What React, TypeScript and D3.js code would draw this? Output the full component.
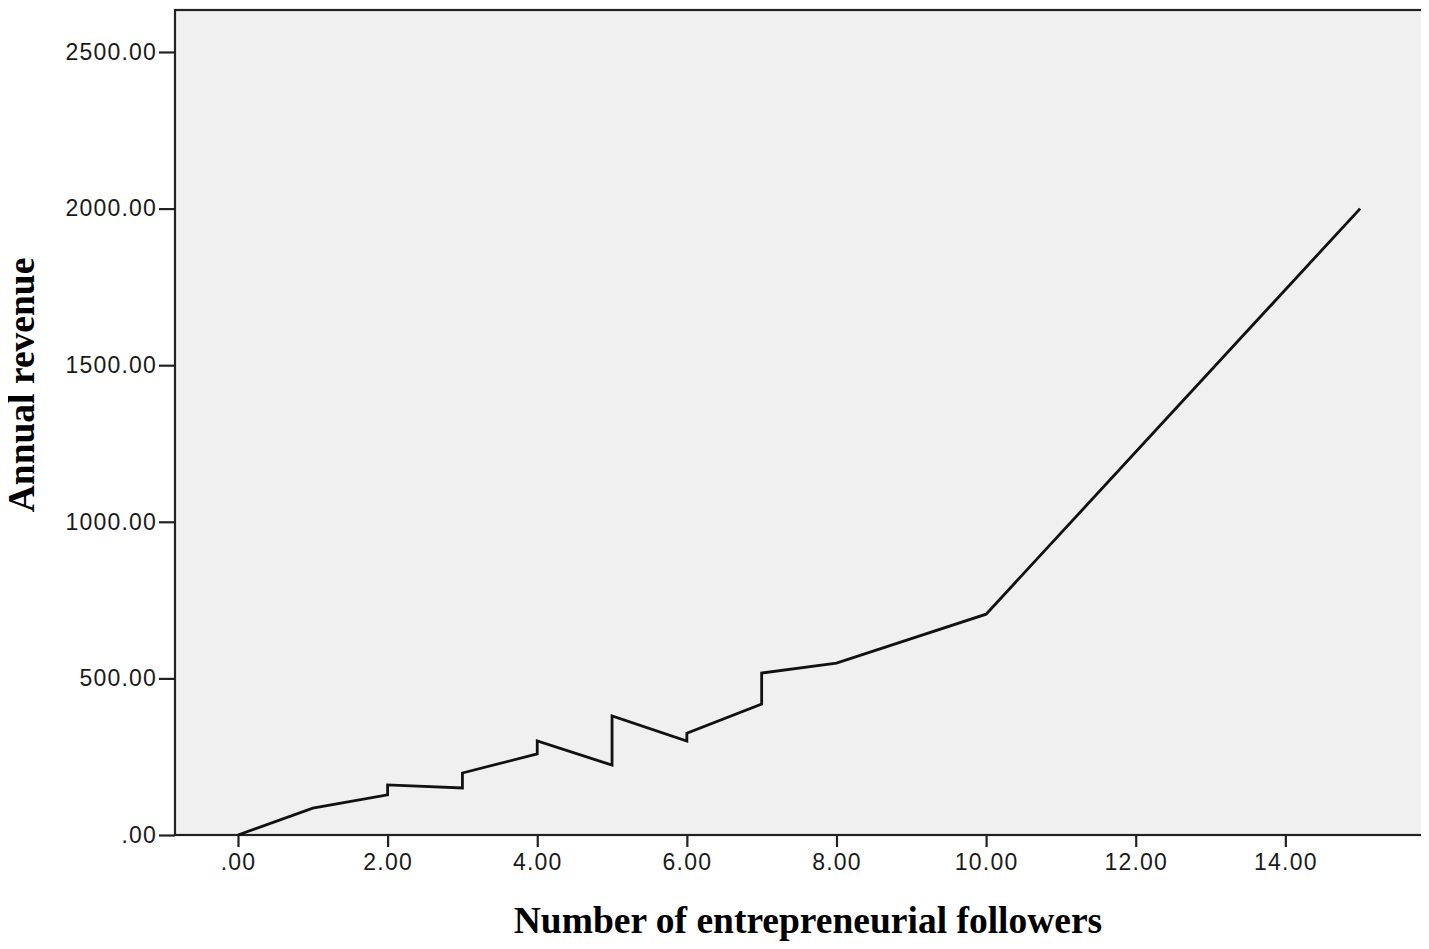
import * as d3 from "d3";
import React, { useEffect, useRef } from "react";

// SPSS line chart: several cases share the same x, so the line jumps vertically
const followers = [0, 1, 2, 2, 3, 3, 4, 4, 5, 5, 6, 6, 7, 7, 8, 10, 15];
const revenue = [0, 86, 128, 160, 150, 198, 259, 300, 223, 380, 300, 325, 418, 517, 549, 705, 2000];
const xTicks = [0, 2, 4, 6, 8, 10, 12, 14];
const yTicks = [0, 500, 1000, 1500, 2000, 2500];

const fmt = (v: number) => (v === 0 ? ".00" : d3.format(".2f")(v));

const App = () => {
  const ref = useRef<SVGSVGElement | null>(null);

  useEffect(() => {
    const svg = d3.select(ref.current);
    svg.selectAll("*").remove();

    const width = 1429;
    const height = 949;
    const margin = { top: 10, right: 6, bottom: 114, left: 175 };

    const x = d3
      .scaleLinear()
      .domain([-0.842, 15.84])
      .range([margin.left, width - margin.right]);

    const y = d3
      .scaleLinear()
      .domain([0, 2634])
      .range([height - margin.bottom, margin.top]);

    svg.attr("width", width).attr("height", height).attr("viewBox", `0 0 ${width} ${height}`);

    const g = svg.append("g");

    g.append("rect")
      .attr("x", margin.left)
      .attr("y", margin.top)
      .attr("width", width - margin.left - margin.right)
      .attr("height", height - margin.top - margin.bottom)
      .attr("fill", "#f0f0f0")
      .attr("stroke", "#222")
      .attr("stroke-width", 2.2);

    const data = followers.map((f, i) => ({ x: f, y: revenue[i] }));
    const line = d3
      .line<{ x: number; y: number }>()
      .x((d) => x(d.x))
      .y((d) => y(d.y));

    g.append("path")
      .datum(data)
      .attr("d", line)
      .attr("fill", "none")
      .attr("stroke", "#111")
      .attr("stroke-width", 2.8)
      .attr("stroke-linejoin", "miter");

    const xAxis = g
      .append("g")
      .attr("transform", `translate(0,${height - margin.bottom})`)
      .call(d3.axisBottom(x).tickValues(xTicks).tickFormat((d) => fmt(+d)).tickSize(12).tickPadding(7));

    const yAxis = g
      .append("g")
      .attr("transform", `translate(${margin.left},0)`)
      .call(d3.axisLeft(y).tickValues(yTicks).tickFormat((d) => fmt(+d)).tickSize(16).tickPadding(2));

    [xAxis, yAxis].forEach((a) => {
      a.select(".domain").remove();
      a.selectAll(".tick line").attr("stroke", "#222").attr("stroke-width", 2.2);
      a.selectAll(".tick text")
        .attr("fill", "#1a1a1a")
        .attr("font-family", "'Liberation Sans', Arial, sans-serif")
        .attr("font-size", 23)
        .attr("letter-spacing", 1.2);
    });

    g.append("text")
      .attr("x", 808)
      .attr("y", 933)
      .attr("text-anchor", "middle")
      .attr("font-family", "'Liberation Serif', 'Times New Roman', serif")
      .attr("font-weight", "bold")
      .attr("font-size", 37.5)
      .attr("fill", "#000")
      .text("Number of entrepreneurial followers");

    g.append("text")
      .attr("transform", "translate(34,385) rotate(-90)")
      .attr("text-anchor", "middle")
      .attr("font-family", "'Liberation Serif', 'Times New Roman', serif")
      .attr("font-weight", "bold")
      .attr("font-size", 37.5)
      .attr("fill", "#000")
      .text("Annual revenue");
  }, []);

  // negative margin cancels the default body margin so the svg starts at the page corner
  return <svg ref={ref} style={{ display: "block", margin: "-8px 0 0 -8px" }} />;
};

export default App;
